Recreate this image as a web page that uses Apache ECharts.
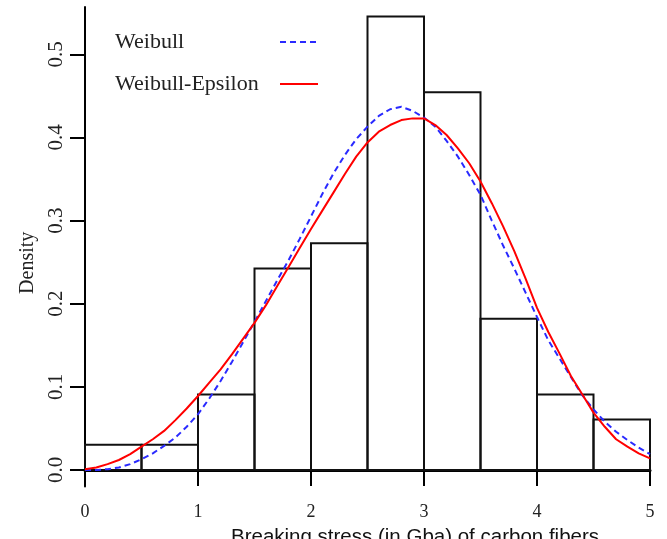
<!DOCTYPE html>
<html>
<head>
<meta charset="utf-8">
<script src="https://cdn.jsdelivr.net/npm/echarts@6/dist/echarts.min.js"></script>
<style>
    html, body { margin: 0; padding: 0; background: #fff; }
    #chart { width: 667px; height: 539px; }
</style>
</head>
<body>
<div id="chart"></div>
<script>
    // histogram bins (width 0.5) and density heights
    const binStart = [0, 0.5, 1, 1.5, 2, 2.5, 3, 3.5, 4, 4.5]
    const binEnd = [0.5, 1, 1.5, 2, 2.5, 3, 3.5, 4, 4.5, 5]
    const binDensity = [0.0303, 0.0303, 0.0909, 0.2424, 0.2727, 0.5455, 0.4545, 0.1818, 0.0909, 0.0606]

    // fitted density curves
    const curveX = [0, 0.1, 0.2, 0.3, 0.4, 0.5, 0.6, 0.7, 0.8, 0.9,
        1, 1.1, 1.2, 1.3, 1.4, 1.5, 1.6, 1.7, 1.8, 1.9,
        2, 2.1, 2.2, 2.3, 2.4, 2.5, 2.6, 2.7, 2.8, 2.9,
        3, 3.1, 3.2, 3.3, 3.4, 3.5, 3.6, 3.7, 3.8, 3.9,
        4, 4.1, 4.2, 4.3, 4.4, 4.5, 4.6, 4.7, 4.8, 4.9, 5]
    const weibull = [0.000, 0.000, 0.001, 0.003, 0.007, 0.013, 0.020, 0.029, 0.039, 0.052,
        0.067, 0.086, 0.107, 0.130, 0.154, 0.178, 0.203, 0.228, 0.252, 0.278,
        0.305, 0.332, 0.357, 0.379, 0.398, 0.413, 0.426, 0.434, 0.437, 0.432,
        0.424, 0.413, 0.396, 0.377, 0.355, 0.331, 0.300, 0.270, 0.242, 0.213,
        0.184, 0.156, 0.134, 0.112, 0.090, 0.073, 0.058, 0.046, 0.036, 0.027, 0.019]
    const weibullEps = [0.001, 0.003, 0.007, 0.012, 0.019, 0.028, 0.037, 0.047, 0.060, 0.074,
        0.089, 0.105, 0.121, 0.139, 0.158, 0.177, 0.198, 0.221, 0.244, 0.267,
        0.290, 0.312, 0.334, 0.356, 0.377, 0.394, 0.407, 0.415, 0.421, 0.423,
        0.423, 0.415, 0.403, 0.387, 0.369, 0.347, 0.321, 0.293, 0.263, 0.230,
        0.195, 0.166, 0.140, 0.113, 0.091, 0.069, 0.052, 0.037, 0.028, 0.020, 0.014]

    const yTicks = [0, 0.1, 0.2, 0.3, 0.4, 0.5]
    const xTicks = [0, 1, 2, 3, 4, 5]

    const serif = '"Liberation Serif", "DejaVu Serif", serif'
    const sans = '"Liberation Sans", Arial, sans-serif'

    let histData = []
    for (let i = 0; i < binStart.length; i++) {
        histData.push([binStart[i], binEnd[i], binDensity[i]])
    }
    let wData = [], weData = []
    for (let i = 0; i < curveX.length; i++) {
        wData.push([curveX[i], weibull[i]])
        weData.push([curveX[i], weibullEps[i]])
    }

    let chart = echarts.init(document.getElementById('chart'))
    let option = {
        animation: false,
        backgroundColor: '#fff',
        grid: { left: 85, right: 17, top: 7, bottom: 52.4, outerBoundsMode: 'none' },
        legend: {
            data: ['Weibull', 'Weibull-Epsilon'],
            orient: 'vertical',
            align: 'right',
            left: 115,
            top: 30,
            padding: 0,
            itemWidth: 38,
            itemHeight: 14,
            itemGap: 18,
            formatter: '{t|{name}}',
            textStyle: {
                fontFamily: serif, fontSize: 22, color: '#222', lineHeight: 24,
                rich: { t: { width: 160, align: 'left', fontFamily: serif, fontSize: 22, color: '#222' } }
            }
        },
        xAxis: {
            type: 'value',
            min: 0,
            max: 5,
            interval: 1,
            name: 'Breaking stress (in Gba) of carbon fibers',
            nameLocation: 'middle',
            nameGap: 37,
            nameTextStyle: { fontFamily: sans, fontSize: 20.5, color: '#111', padding: [0, 0, 0, 95] },
            axisLine: { onZero: true, lineStyle: { color: '#000', width: 3 } },
            axisTick: { length: 16, lineStyle: { color: '#000', width: 2 } },
            axisLabel: {
                margin: 17, fontFamily: serif, fontSize: 18, color: '#222',
                customValues: xTicks
            },
            splitLine: { show: false }
        },
        yAxis: {
            type: 'value',
            min: -0.02,
            max: 0.557,
            name: 'Density',
            nameLocation: 'middle',
            nameGap: 46,
            nameTextStyle: { fontFamily: serif, fontSize: 20, color: '#222', padding: [0, 32, 0, 0] },
            axisLine: { show: true, lineStyle: { color: '#000', width: 2 } },
            axisTick: { show: true, length: 15, customValues: yTicks, lineStyle: { color: '#000', width: 2 } },
            axisLabel: {
                rotate: 90, margin: 18, fontFamily: serif, fontSize: 21, color: '#222',
                customValues: yTicks,
                formatter: function (v) { return v.toFixed(1) }
            },
            splitLine: { show: false }
        },
        series: [
            {
                name: 'hist',
                type: 'custom',
                data: histData,
                encode: { x: [0, 1], y: 2 },
                renderItem: function (params, api) {
                    let p0 = api.coord([api.value(0), 0])
                    let p1 = api.coord([api.value(1), api.value(2)])
                    return {
                        type: 'rect',
                        shape: { x: p0[0], y: p1[1], width: p1[0] - p0[0], height: p0[1] - p1[1] },
                        style: { fill: 'none', stroke: '#111', lineWidth: 2 }
                    }
                },
                z: 1
            },
            {
                name: 'Weibull',
                type: 'line',
                data: wData,
                symbol: 'none',
                lineStyle: { color: '#2a2aff', width: 2, type: [6, 4] },
                itemStyle: { color: 'rgba(0,0,0,0)' },
                z: 3
            },
            {
                name: 'Weibull-Epsilon',
                type: 'line',
                data: weData,
                symbol: 'none',
                lineStyle: { color: '#ff0000', width: 2 },
                itemStyle: { color: 'rgba(0,0,0,0)' },
                z: 4
            }
        ]
    }
    chart.setOption(option)
</script>
</body>
</html>
